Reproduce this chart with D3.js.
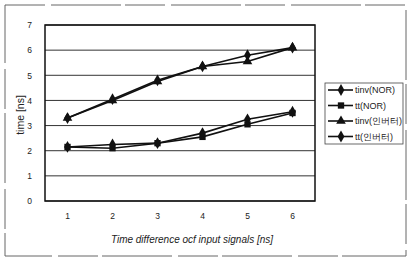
<!DOCTYPE html>
<html><head><meta charset="utf-8">
<script src="https://cdn.jsdelivr.net/npm/d3@7"></script>
<style>body{margin:0;background:#fff}svg{display:block}text{font-family:"Liberation Sans",Arial,sans-serif;fill:#222}</style>
</head><body><svg id="c" width="408" height="258"></svg>
<script>
const categories = [1, 2, 3, 4, 5, 6];
const yTicks = [0, 1, 2, 3, 4, 5, 6, 7];
const seriesNames = ["tinv(NOR)", "tt(NOR)", "tinv(인버터)", "tt(인버터)"];
const tinvNor = [3.3, 4.05, 4.8, 5.35, 5.8, 6.1];
const ttNor = [2.15, 2.1, 2.3, 2.55, 3.05, 3.5];
const tinvInv = [3.3, 4.0, 4.75, 5.35, 5.55, 6.1];
const ttInv = [2.15, 2.25, 2.3, 2.7, 3.25, 3.55];
const seriesValues = [tinvNor, ttNor, tinvInv, ttInv];
const markers = [d3.symbolDiamond, d3.symbolSquare, d3.symbolTriangle, d3.symbolDiamond];

const svg = d3.select("#c");
const L = 45, R = 315, T = 25, B = 201;
const x = d3.scaleBand().domain(categories).range([L, R]);
const y = d3.scaleLinear().domain([0, 7]).range([B, T]);

// outer frame
svg.append("rect").attr("x", 5).attr("y", 5).attr("width", 401).attr("height", 251)
  .attr("fill", "none").attr("stroke", "#666").attr("stroke-width", 1).attr("stroke-dasharray", "40 6 70 4");

// gridlines
svg.append("g").selectAll("line").data(yTicks).join("line")
  .attr("x1", L).attr("x2", R).attr("y1", d => y(d)).attr("y2", d => y(d))
  .attr("stroke", "#333").attr("stroke-width", 1);
svg.append("rect").attr("x", L).attr("y", T).attr("width", R - L).attr("height", B - T)
  .attr("fill", "none").attr("stroke", "#111").attr("stroke-width", 1.5);

// axes
const ya = svg.append("g").attr("transform", `translate(${L},0)`)
  .call(d3.axisLeft(y).tickValues(yTicks).tickSize(0).tickPadding(13).tickFormat(d3.format("d")));
ya.select(".domain").remove();
ya.selectAll("text").attr("font-size", 8.5).attr("font-family", "Liberation Sans");
const xa = svg.append("g").attr("transform", `translate(0,${B})`)
  .call(d3.axisBottom(x).tickSize(0).tickPadding(12));
xa.select(".domain").remove();
xa.selectAll("text").attr("font-size", 8.5).attr("font-family", "Liberation Sans");

// titles
svg.append("text").attr("transform", "translate(24,115) rotate(-90)").attr("text-anchor", "middle")
  .attr("font-size", 10.5).text("time [ns]");
svg.append("text").attr("x", 192).attr("y", 243).attr("text-anchor", "middle")
  .attr("font-size", 10).attr("font-style", "italic").text("Time difference ocf input signals [ns]");

// series
const line = d3.line().x((d, i) => x(categories[i]) + x.bandwidth() / 2).y(d => y(d));
seriesValues.forEach((vals, s) => {
  svg.append("path").datum(vals).attr("d", line).attr("fill", "none")
    .attr("stroke", "#111").attr("stroke-width", 1.6);
  svg.append("g").selectAll("path").data(vals).join("path")
    .attr("transform", (d, i) => `translate(${x(categories[i]) + x.bandwidth() / 2},${y(d)})`)
    .attr("d", d3.symbol().type(markers[s]).size(40)).attr("fill", "#111");
});

// legend
const lg = svg.append("g");
lg.append("rect").attr("x", 325).attr("y", 83).attr("width", 78).attr("height", 61)
  .attr("fill", "#fff").attr("stroke", "#444").attr("stroke-width", 0.8);
seriesNames.forEach((n, i) => {
  const yy = 90 + i * 15.5;
  lg.append("line").attr("x1", 328).attr("x2", 353).attr("y1", yy).attr("y2", yy)
    .attr("stroke", "#111").attr("stroke-width", 1.6);
  lg.append("path").attr("transform", `translate(341,${yy})`)
    .attr("d", d3.symbol().type(markers[i]).size(40)).attr("fill", "#111");
  lg.append("text").attr("x", 355).attr("y", yy + 3).attr("font-size", 9).text(n);
});
</script></body></html>
